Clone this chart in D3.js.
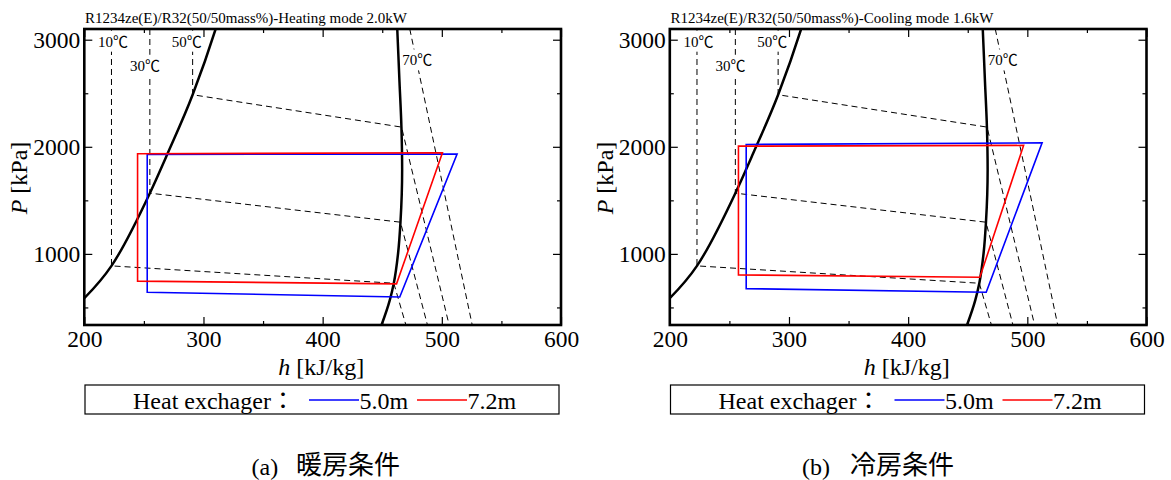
<!DOCTYPE html>
<html>
<head>
<meta charset="utf-8">
<script src="https://cdn.jsdelivr.net/npm/d3@7"></script>
<style>
  html, body { margin: 0; padding: 0; background: #fff; }
  svg { display: block; }
  text { font-family: "Liberation Serif", "Times New Roman", "Noto Sans CJK JP", serif; fill: #000; }
</style>
</head>
<body>
<script>
// ---------------- data ----------------
const hDomain = [200, 600];
const pDomain = [336, 3100];
const hMajorTicks = [200, 300, 400, 500, 600];
const hMinorTicks = [250, 350, 450, 550];
const pMajorTicks = [1000, 2000, 3000];
const pMinorTicks = [500, 1500, 2500];

// saturation dome
const liquidH = [196, 200, 222.8, 255, 269.8, 290.9, 310.2, 313];
const liquidP = [542, 586, 888, 1567, 1935, 2486, 3100, 3200];
const vaporH = [447.5, 449.4, 456.4, 459.7, 463.3, 465.3, 466.7, 466.1, 464.5, 462.6, 462.2];
const vaporP = [280, 336, 570, 726, 1006, 1296, 1785, 2184, 2600, 3100, 3200];

// isotherms (dashed)
const iso10H = [222.8, 222.8, 459.7, 470.8];
const iso10P = [3100, 888, 726, 300];
const iso30H = [255, 255, 465.3, 488.8];
const iso30P = [3100, 1567, 1296, 300];
const iso50H = [290.9, 290.9, 466.2, 506.9];
const iso50P = [3100, 2486, 2184, 300];
const iso70H = [473.1, 526.2];
const iso70P = [3100, 300];
const isoLabels = ["10℃", "30℃", "50℃", "70℃"];
const isoLabelH = [224, 251, 286, 479.3];
const isoLabelP = [2935, 2710, 2935, 2760];

// cycles: heating mode
const heat50H = [252.8, 512.8, 464.7, 252.8];
const heat50P = [1929, 1932, 598, 642];
const heat72H = [244.7, 500.5, 462.0, 244.7];
const heat72P = [1935, 1944, 720, 746];
// cycles: cooling mode
const cool50H = [264.1, 512.4, 465.5, 264.1];
const cool50P = [2022, 2037, 642, 676];
const cool72H = [257.6, 496.9, 460.2, 257.6];
const cool72P = [2006, 2013, 782, 804];

const titles = ["R1234ze(E)/R32(50/50mass%)-Heating mode 2.0kW",
                "R1234ze(E)/R32(50/50mass%)-Cooling mode 1.6kW"];
const legendTitle = "Heat exchager：";
const seriesNames = ["5.0m", "7.2m"];
const seriesColors = ["#0000ff", "#ff0000"];
const captionTags = ["(a)", "(b)"];
const captionTexts = ["暖房条件", "冷房条件"];

// ---------------- layout ----------------
const W = 476.7, H = 296;
const panelX = [84.3, 669.8];
const panelY = 29;
const serif = '"Liberation Serif", "Times New Roman", serif';

const svg = d3.select("body").append("svg")
  .attr("width", 1171).attr("height", 480)
  .style("background", "#fff");

const x = d3.scaleLinear().domain(hDomain).range([0, W]);
const y = d3.scaleLinear().domain(pDomain).range([H, 0]);

function pts(hs, ps) { return hs.map((h, i) => [h, ps[i]]); }
const line = d3.line().x(d => x(d[0])).y(d => y(d[1]));
const smoothX = d3.line().x(d => x(d[0])).y(d => y(d[1])).curve(d3.curveMonotoneX);
const smoothY = d3.line().x(d => x(d[0])).y(d => y(d[1])).curve(d3.curveMonotoneY);

function drawPanel(idx, c50H, c50P, c72H, c72P) {
  const g = svg.append("g").attr("transform", `translate(${panelX[idx]},${panelY})`);
  const clipId = "clip" + idx;
  g.append("clipPath").attr("id", clipId)
    .append("rect").attr("x", 0).attr("y", 0).attr("width", W).attr("height", H);

  const plot = g.append("g").attr("clip-path", `url(#${clipId})`);

  // isotherms
  [[iso10H, iso10P], [iso30H, iso30P], [iso50H, iso50P], [iso70H, iso70P]].forEach(([hs, ps]) => {
    plot.append("path").attr("d", line(pts(hs, ps)))
      .attr("fill", "none").attr("stroke", "#000").attr("stroke-width", 1)
      .attr("stroke-dasharray", "6,4");
  });

  // isotherm labels with white background
  isoLabels.forEach((lab, i) => {
    const t = plot.append("text")
      .attr("x", x(isoLabelH[i])).attr("y", y(isoLabelP[i]))
      .attr("text-anchor", "middle")
      .style("font-size", "15px")
      .text(lab);
    const bb = t.node().getBBox();
    plot.insert("rect", () => t.node())
      .attr("x", bb.x - 1).attr("y", bb.y - 3)
      .attr("width", bb.width + 2).attr("height", bb.height + 5)
      .attr("fill", "#fff");
  });

  // dome
  plot.append("path").attr("d", smoothX(pts(liquidH, liquidP)))
    .attr("fill", "none").attr("stroke", "#000").attr("stroke-width", 2.5);
  plot.append("path").attr("d", smoothY(pts(vaporH, vaporP)))
    .attr("fill", "none").attr("stroke", "#000").attr("stroke-width", 2.5);

  // cycles
  [[c50H, c50P, seriesColors[0]], [c72H, c72P, seriesColors[1]]].forEach(([hs, ps, col]) => {
    plot.append("path").attr("d", line(pts(hs, ps)) + "Z")
      .attr("fill", "none").attr("stroke", col).attr("stroke-width", 1.6)
      .attr("stroke-linejoin", "miter");
  });

  // axes (inward ticks)
  const fmt = d3.format("d");
  const axB = g.append("g").attr("transform", `translate(0,${H})`)
    .call(d3.axisBottom(x).tickValues(hMajorTicks).tickSize(-8).tickPadding(5.5).tickFormat(fmt));
  const axBm = g.append("g").attr("transform", `translate(0,${H})`)
    .call(d3.axisBottom(x).tickValues(hMinorTicks).tickSize(-4).tickFormat(""));
  const axT = g.append("g")
    .call(d3.axisTop(x).tickValues(hMajorTicks).tickSize(-8).tickFormat(""));
  const axTm = g.append("g")
    .call(d3.axisTop(x).tickValues(hMinorTicks).tickSize(-4).tickFormat(""));
  const axL = g.append("g")
    .call(d3.axisLeft(y).tickValues(pMajorTicks).tickSize(-8).tickPadding(4).tickFormat(fmt));
  const axLm = g.append("g")
    .call(d3.axisLeft(y).tickValues(pMinorTicks).tickSize(-4).tickFormat(""));
  const axR = g.append("g").attr("transform", `translate(${W},0)`)
    .call(d3.axisRight(y).tickValues(pMajorTicks).tickSize(-8).tickFormat(""));
  const axRm = g.append("g").attr("transform", `translate(${W},0)`)
    .call(d3.axisRight(y).tickValues(pMinorTicks).tickSize(-4).tickFormat(""));
  [axB, axBm, axT, axTm, axL, axLm, axR, axRm].forEach(a => {
    a.attr("font-family", null).attr("font-size", null);
    a.select(".domain").remove();
    a.selectAll(".tick line").attr("stroke", "#000").attr("stroke-width", 1.2);
    a.selectAll(".tick text")
      .style("font-family", serif)
      .style("font-size", "23.5px").attr("fill", "#000");
  });

  // frame
  g.append("rect").attr("x", 0).attr("y", 0).attr("width", W).attr("height", H)
    .attr("fill", "none").attr("stroke", "#000").attr("stroke-width", 2.6);

  // title
  g.append("text").attr("x", 0.7).attr("y", -5.7)
    .style("font-size", "15px").text(titles[idx]);

  // axis titles
  const xt = g.append("text").attr("x", W / 2 - 1.5).attr("y", 346)
    .attr("text-anchor", "middle").style("font-size", "24px").style("font-family", serif);
  xt.append("tspan").style("font-style", "italic").text("h");
  xt.append("tspan").text(" [kJ/kg]");

  const yt = g.append("text")
    .attr("transform", `translate(${27 - panelX[0]},${149}) rotate(-90)`)
    .attr("text-anchor", "middle").style("font-size", "24px").style("font-family", serif);
  yt.append("tspan").style("font-style", "italic").text("P");
  yt.append("tspan").text(" [kPa]");

  // legend
  const lg = g.append("g").attr("transform", `translate(0.7,356)`);
  lg.append("rect").attr("x", 0).attr("y", 0).attr("width", 474).attr("height", 29)
    .attr("fill", "#fff").attr("stroke", "#000").attr("stroke-width", 1.2);
  lg.append("text").attr("x", 48).attr("y", 23.5).style("font-size", "24px").text(legendTitle);
  const lx = [224, 332];
  seriesNames.forEach((nm, i) => {
    lg.append("line").attr("x1", lx[i]).attr("x2", lx[i] + 50)
      .attr("y1", 15).attr("y2", 15)
      .attr("stroke", seriesColors[i]).attr("stroke-width", 1.6);
    lg.append("text").attr("x", lx[i] + 50.5).attr("y", 23.5)
      .style("font-size", "24px").style("font-family", serif).text(nm);
  });
}

drawPanel(0, heat50H, heat50P, heat72H, heat72P);
drawPanel(1, cool50H, cool50P, cool72H, cool72P);

// captions
const capTagX = [251.6, 801.9];
const capTextX = [296, 850];
captionTags.forEach((tag, i) => {
  svg.append("text").attr("x", capTagX[i]).attr("y", 475)
    .style("font-size", "24px").style("font-family", serif).text(tag);
  svg.append("text").attr("x", capTextX[i]).attr("y", 474)
    .style("font-size", "26px").style("font-family", '"Noto Sans CJK JP", sans-serif')
    .text(captionTexts[i]);
});
</script>
</body>
</html>
